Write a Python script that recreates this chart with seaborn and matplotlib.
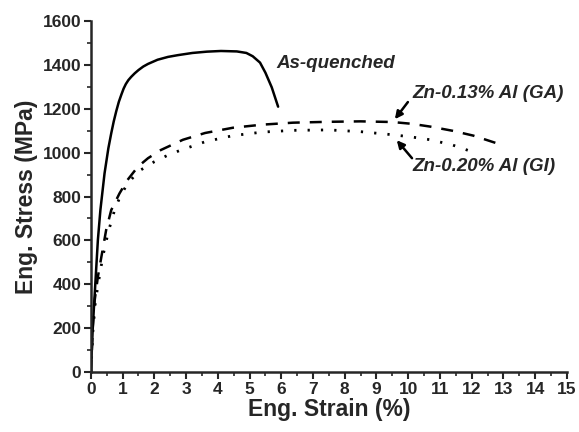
import matplotlib
matplotlib.use("Agg")
import matplotlib.pyplot as plt
from matplotlib.ticker import MultipleLocator
import seaborn as sns
import pandas as pd

# As-quenched
aq_strain = [0.0, 0.06, 0.14, 0.22, 0.3, 0.43, 0.55, 0.64, 0.72, 0.8, 0.88, 0.96, 1.03, 1.1,
             1.18, 1.27, 1.38, 1.5, 1.65, 1.8, 2.1, 2.43, 2.74, 3.2, 3.66, 4.1, 4.6, 4.9,
             5.1, 5.33, 5.5, 5.7, 5.9]
aq_stress = [0, 206, 405, 602, 740, 906, 1020, 1088, 1143, 1190, 1232, 1265, 1292, 1313,
             1331, 1346, 1362, 1377, 1393, 1405, 1424, 1437, 1445, 1455, 1461, 1464, 1462,
             1455, 1440, 1411, 1365, 1298, 1210]

# Zn-0.13% Al (GA)
ga_strain = [0.0, 0.06, 0.12, 0.22, 0.33, 0.48, 0.64, 0.9, 1.15, 1.48, 1.8, 2.2, 2.9, 3.6,
             4.48, 5.4, 6.37, 7.5, 8.5, 9.5, 10.1, 10.7, 11.4, 12.05, 12.75]
ga_stress = [0, 206, 328, 434, 525, 647, 738, 814, 875, 936, 975, 1012, 1059, 1090,
             1114, 1128, 1137, 1141, 1143, 1140, 1132, 1119, 1100, 1078, 1045]

# Zn-0.20% Al (GI)
gi_strain = [0.0, 0.06, 0.14, 0.25, 0.38, 0.55, 0.75, 0.95, 1.17, 1.5, 2.0, 2.43, 2.8, 3.6,
             4.48, 5.4, 6.37, 7.5, 8.5, 9.5, 10.1, 10.7, 11.4, 12.2]
gi_stress = [0, 180, 320, 420, 530, 640, 740, 810, 861, 915, 959, 989, 1010, 1050,
             1078, 1094, 1102, 1104, 1096, 1082, 1072, 1059, 1035, 995]

sns.set_style("ticks")
plt.rcParams['font.family'] = ['Liberation Sans', 'DejaVu Sans']
plt.rcParams['font.weight'] = 'bold'

fig, ax = plt.subplots(figsize=(5.79, 4.32), dpi=100)

df_aq = pd.DataFrame({'strain': aq_strain, 'stress': aq_stress})
df_ga = pd.DataFrame({'strain': ga_strain, 'stress': ga_stress})
df_gi = pd.DataFrame({'strain': gi_strain, 'stress': gi_stress})

sns.lineplot(data=df_aq, x='strain', y='stress', sort=False, ax=ax, color='black', lw=1.8)
sns.lineplot(data=df_ga, x='strain', y='stress', sort=False, ax=ax, color='black', lw=1.8,
             linestyle=(0, (4.8, 4.0)))
sns.lineplot(data=df_gi, x='strain', y='stress', sort=False, ax=ax, color='black', lw=2.0,
             linestyle=(0, (0.8, 4.0)))

ax.set_xlim(0, 15)
ax.set_ylim(0, 1600)
ax.xaxis.set_major_locator(MultipleLocator(1))
ax.xaxis.set_minor_locator(MultipleLocator(0.5))
ax.yaxis.set_major_locator(MultipleLocator(200))
ax.yaxis.set_minor_locator(MultipleLocator(100))
ax.tick_params(which='major', direction='out', length=5, width=1.5, labelsize=12.5, pad=2)
ax.tick_params(which='minor', direction='out', length=3, width=1.2)
for lab in ax.get_xticklabels() + ax.get_yticklabels():
    lab.set_fontweight('bold')
sns.despine(ax=ax)
for s in ['left', 'bottom']:
    ax.spines[s].set_linewidth(1.8)

ax.set_xlabel('Eng. Strain (%)', fontsize=16.5, fontweight='bold', labelpad=1)
ax.set_ylabel('Eng. Stress (MPa)', fontsize=16.5, fontweight='bold', labelpad=3)

ax.text(5.86, 1408, 'As-quenched', fontsize=13.5, fontweight='bold', style='italic',
        va='center')
ax.text(10.12, 1272, 'Zn-0.13% Al (GA)', fontsize=13.5, fontweight='bold', style='italic',
        va='center')
ax.text(10.12, 935, 'Zn-0.20% Al (GI)', fontsize=13.5, fontweight='bold', style='italic',
        va='center')

arrow = dict(arrowstyle='-|>', color='black', lw=1.8, shrinkA=0, shrinkB=0,
             mutation_scale=11)
ax.annotate('', xy=(9.58, 1153), xytext=(9.99, 1231), arrowprops=arrow)
ax.annotate('', xy=(9.64, 1057), xytext=(10.12, 975), arrowprops=arrow)

fig.subplots_adjust(left=0.157, right=0.979, bottom=0.139, top=0.951)
fig.savefig('out.png', dpi=100)
